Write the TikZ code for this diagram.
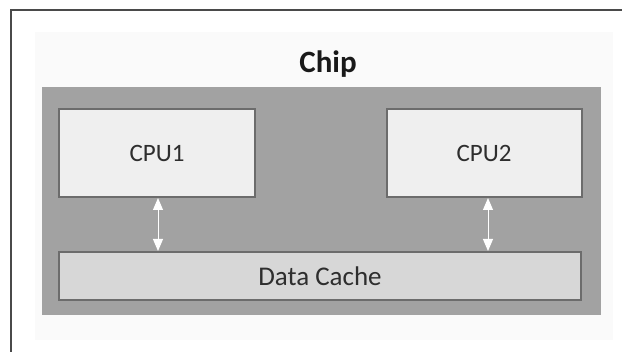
\documentclass[tikz,border=0pt]{standalone}
\usepackage{fontspec}
\setmainfont{Carlito}
\usetikzlibrary{arrows.meta}
\definecolor{framegray}{HTML}{4A4A4A}
\definecolor{panel}{HTML}{FAFAFA}
\definecolor{chipgray}{HTML}{A2A2A2}
\definecolor{cpufill}{HTML}{EFEFEF}
\definecolor{cachefill}{HTML}{D7D7D7}
\definecolor{boxline}{HTML}{6C6C6C}
\definecolor{inkgray}{HTML}{2E2E2E}
\tikzset{
  unitbox/.style={draw=boxline, line width=2pt, text=inkgray,
    inner sep=0pt, font=\fontsize{25}{30}\selectfont},
  buslink/.style={draw=white, line width=1pt,
    {Triangle[width=10pt,length=12pt]}-{Triangle[width=10pt,length=12pt]}}
}
\begin{document}
\begin{tikzpicture}[x=1pt,y=-1pt]
  \useasboundingbox (0,0) rectangle (622,352);
  \fill[white] (0,0) rectangle (622,352);
  % outer frame (top and left edges)
  \draw[framegray, line width=1.5pt] (11,352) -- (11,10) -- (622,10);
  % light panel and chip body
  \fill[panel] (35,32) rectangle (613,340);
  \fill[chipgray] (42,87) rectangle (601,315);
  \node[font=\bfseries\fontsize{31}{35}\selectfont, text=black!90] (chip) at (328,64) {Chip};
  % processing units and shared cache
  \node[unitbox, fill=cpufill, minimum width=196pt, minimum height=88pt] (cpu1) at (157,153) {CPU1};
  \node[unitbox, fill=cpufill, minimum width=195pt, minimum height=88pt] (cpu2) at (484,153) {CPU2};
  \node[unitbox, fill=cachefill, minimum width=522pt, minimum height=48pt,
    font=\fontsize{27}{32}\selectfont] (cache) at (320,276) {Data Cache};
  % bidirectional links
  \draw[buslink] ([xshift=1pt]cpu1.south) -- ([xshift=1pt]cpu1.south |- cache.north);
  \draw[buslink] ([xshift=4pt]cpu2.south) -- ([xshift=4pt]cpu2.south |- cache.north);
\end{tikzpicture}
\end{document}
